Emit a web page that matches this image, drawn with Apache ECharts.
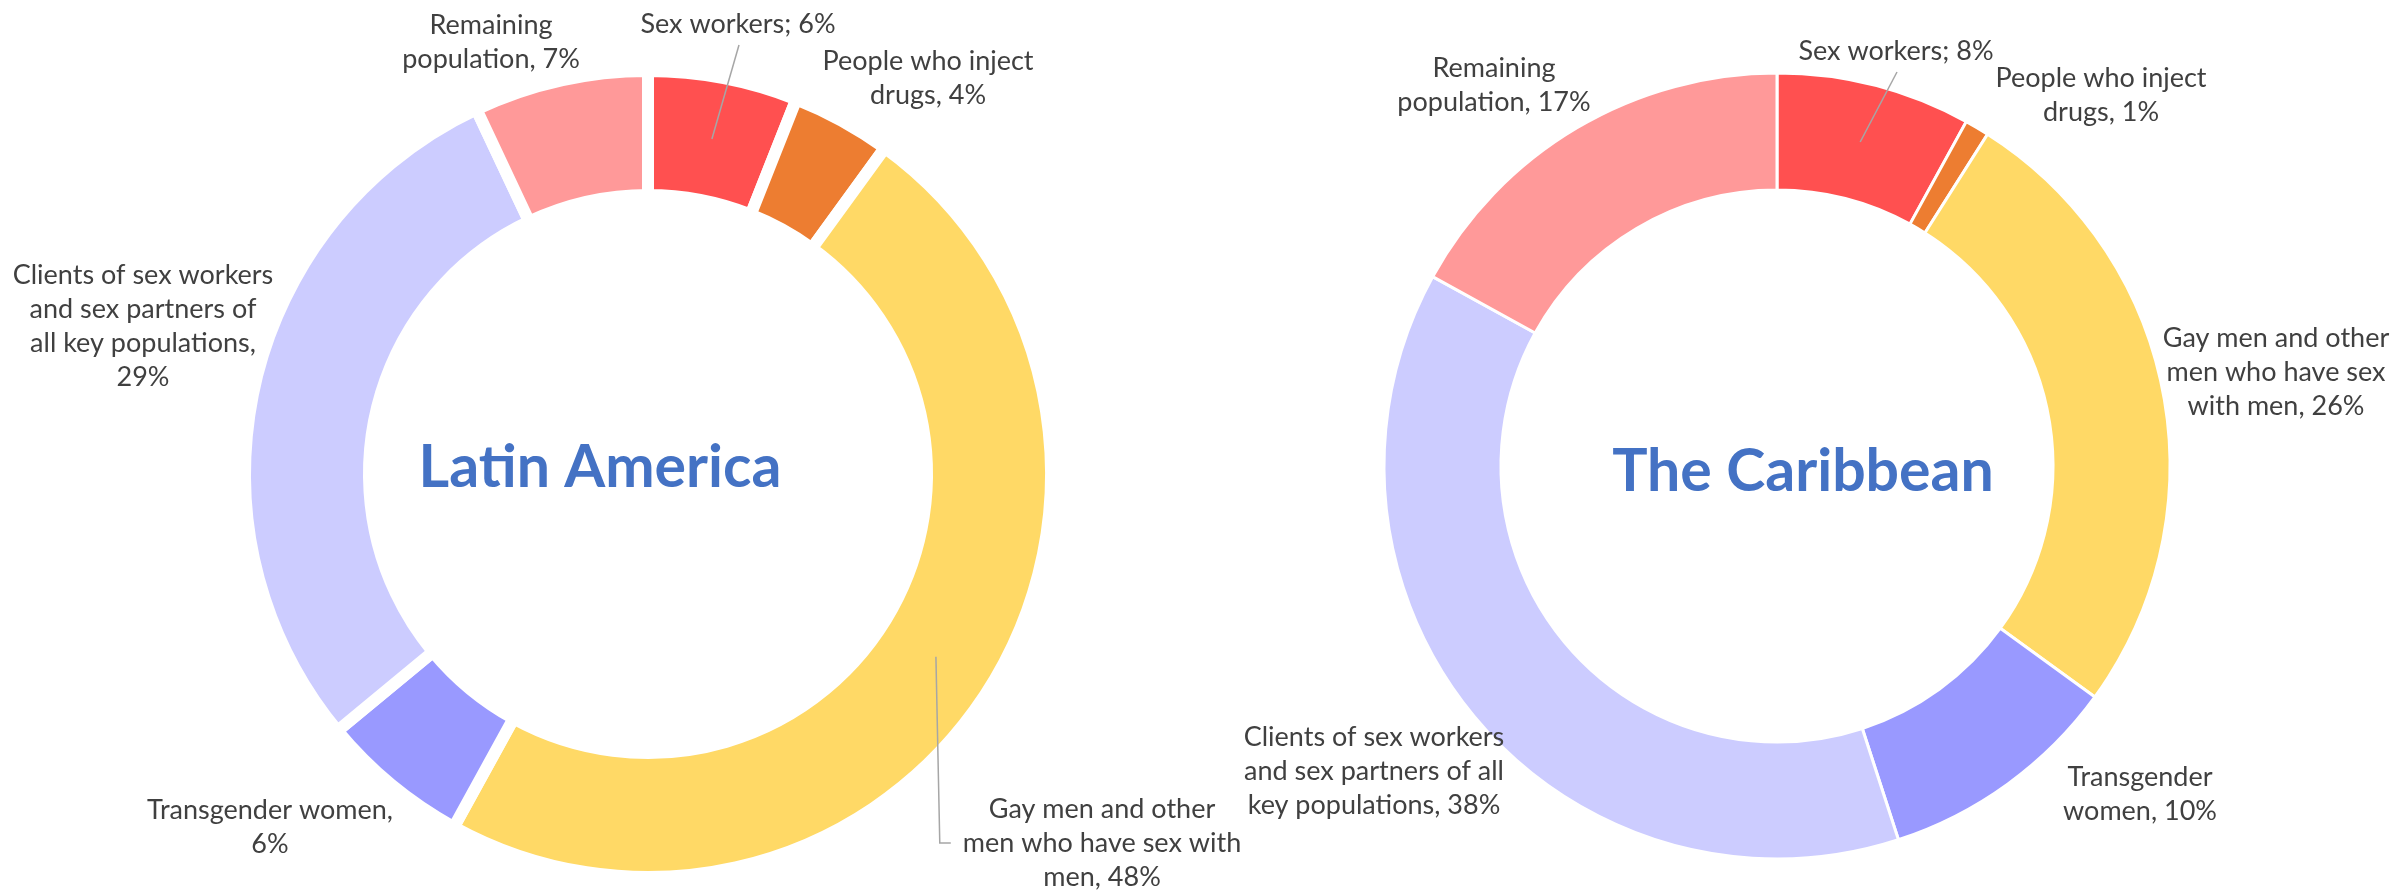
<!DOCTYPE html>
<html>
<head>
<meta charset="utf-8">
<script src="https://cdn.jsdelivr.net/npm/echarts@6/dist/echarts.min.js"></script>
<style>
  html, body { margin: 0; padding: 0; background: #fff; }
  #main { width: 2399px; height: 891px; }
</style>
</head>
<body>
<div id="main"></div>
<script>
var categories = [
  'Sex workers',
  'People who inject drugs',
  'Gay men and other men who have sex with men',
  'Transgender women',
  'Clients of sex workers and sex partners of all key populations',
  'Remaining population'
];
var latinValues = [6, 4, 48, 6, 29, 7];
var caribValues = [8, 1, 26, 10, 38, 17];
var colors = ['#FF5050', '#ED7D31', '#FFD966', '#9999FF', '#CCCCFF', '#FF9999'];

// label text wrapped as in the original, {c} is the value
var latinLabels = [
  'Sex workers; {c}%',
  'People who inject\ndrugs, {c}%',
  'Gay men and other\nmen who have sex with\nmen, {c}%',
  'Transgender women,\n{c}%',
  'Clients of sex workers\nand sex partners of\nall key populations,\n{c}%',
  'Remaining\npopulation, {c}%'
];
var caribLabels = [
  'Sex workers; {c}%',
  'People who inject\ndrugs, {c}%',
  'Gay men and other\nmen who have sex\nwith men, {c}%',
  'Transgender\nwomen, {c}%',
  'Clients of sex workers\nand sex partners of all\nkey populations, {c}%',
  'Remaining\npopulation, {c}%'
];

// centre of each label block (px)
var latinLabelPos = [[738, 24], [928, 78], [1102, 843], [270, 827], [143, 326], [491, 42]];
var caribLabelPos = [[1896, 51], [2101, 95], [2276, 372], [2140, 794], [1374, 771], [1494, 85]];
// leader lines: 'down' = from under the label, 'elbow' = hook on the left
var latinLeaders = ['down', null, 'elbow', null, null, null];
var caribLeaders = ['down', null, null, null, null, null];

var chart = echarts.init(document.getElementById('main'));
var labelSizes = [[], []];

function makeLayout(pos) {
  return function (params) {
    var p = pos[params.dataIndex];
    labelSizes[params.seriesIndex][params.dataIndex] = [params.labelRect.width, params.labelRect.height];
    return { x: p[0], y: p[1], align: 'center', verticalAlign: 'middle', hideOverlap: false };
  };
}

function buildData(values, labels) {
  return categories.map(function (name, i) {
    return {
      name: name,
      value: values[i],
      itemStyle: { color: colors[i] },
      label: { formatter: labels[i] }
    };
  });
}

function donut(center, radius, border, values, labels, pos) {
  return {
    type: 'pie',
    center: center,
    radius: radius,
    startAngle: 90,
    clockwise: true,
    avoidLabelOverlap: false,
    silent: true,
    data: buildData(values, labels),
    itemStyle: { borderColor: '#ffffff', borderWidth: border, borderJoin: 'miter' },
    label: {
      show: true,
      position: 'outside',
      color: '#404040',
      fontFamily: 'Lato',
      fontSize: 27,
      lineHeight: 34
    },
    labelLine: { show: false },
    labelLayout: makeLayout(pos),
    emphasis: { disabled: true }
  };
}

var option = {
  backgroundColor: '#ffffff',
  animation: false,
  graphic: [
    {
      id: 'titleLA', type: 'text', x: 600, y: 468,
      style: { text: 'Latin America', font: 'bold 59px Lato', fill: '#4472C4', textAlign: 'center', textVerticalAlign: 'middle' }
    },
    {
      id: 'titleCB', type: 'text', x: 1803, y: 472,
      style: { text: 'The Caribbean', font: 'bold 59px Lato', fill: '#4472C4', textAlign: 'center', textVerticalAlign: 'middle' }
    }
  ],
  series: [
    donut([648, 474], [279, 403], 12, latinValues, latinLabels, latinLabelPos),
    donut([1777, 466], [276, 393], 3, caribValues, caribLabels, caribLabelPos)
  ]
};

chart.setOption(option);

// leader lines from the label to the middle of its slice, using the pie layout
function leaderLines(seriesIndex, pos, leaders) {
  var data = chart.getModel().getSeriesByIndex(seriesIndex).getData();
  var out = [];
  leaders.forEach(function (kind, i) {
    if (!kind) return;
    var lay = data.getItemLayout(i);
    var mid = (lay.startAngle + lay.endAngle) / 2;
    var rm = (lay.r + lay.r0) / 2;
    var a = [lay.cx + rm * Math.cos(mid), lay.cy + rm * Math.sin(mid)];
    var p = pos[i];
    var size = labelSizes[seriesIndex][i] || [0, 0];
    var pts;
    if (kind === 'down') {
      pts = [[p[0] + 1, p[1] + size[1] / 2 + 4], a];
    } else {
      var left = p[0] - size[0] / 2;
      pts = [a, [left - 23, p[1]], [left - 12, p[1]]];
    }
    out.push({
      id: 'leader' + seriesIndex + '_' + i,
      type: 'polyline',
      z: 100,
      silent: true,
      shape: { points: pts },
      style: { stroke: '#A6A6A6', lineWidth: 1.5, fill: null }
    });
  });
  return out;
}

chart.setOption({
  graphic: leaderLines(0, latinLabelPos, latinLeaders).concat(leaderLines(1, caribLabelPos, caribLeaders))
});
</script>
</body>
</html>
